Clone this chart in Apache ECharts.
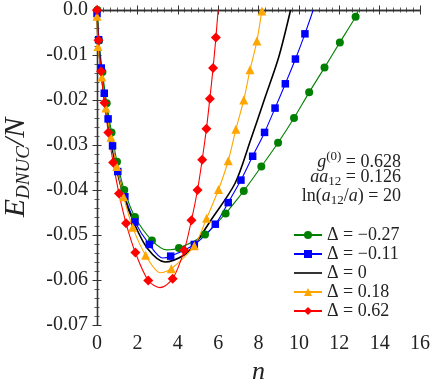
<!DOCTYPE html>
<html>
<head>
<meta charset="utf-8">
<script src="https://cdn.jsdelivr.net/npm/echarts@6/dist/echarts.min.js"></script>
<style>
  html, body { margin: 0; padding: 0; background: #fff; }
  #chart { width: 436px; height: 382px; }
</style>
</head>
<body>
<div id="chart"></div>
<script>
(function () {
  "use strict";

  // marker points [n, E/N]
  const greenMarks = [[0.02, 0], [0.1, -0.0068], [0.27, -0.0138], [0.48, -0.0207], [0.72, -0.0272], [0.99, -0.0337],
    [1.35, -0.040], [1.88, -0.046], [2.72, -0.0512], [4.06, -0.0529], [5.35, -0.0499], [6.37, -0.0452],
    [7.27, -0.0402], [8.14, -0.0348], [8.97, -0.0295], [9.76, -0.024], [10.51, -0.0183], [11.27, -0.0128],
    [12.03, -0.0072], [12.81, -0.0015]];
  const greenExtra = [[3.45, -0.0533], [12.94, 0]];

  const blueMarks = [[0, -0.0008], [0.08, -0.0066], [0.21, -0.0129], [0.36, -0.0185], [0.55, -0.0242], [0.77, -0.0302],
    [1.03, -0.0359], [1.38, -0.0415], [1.88, -0.0471], [2.59, -0.0521], [3.65, -0.0547], [4.82, -0.0521],
    [5.86, -0.0476], [6.5, -0.0428], [7.13, -0.0378], [7.71, -0.0325], [8.3, -0.0272], [8.82, -0.0218],
    [9.33, -0.0164], [9.83, -0.0109], [10.3, -0.0053]];
  const blueExtra = [[3.25, -0.0551], [10.71, 0]];

  const blackLine = [[0, 0], [0.06, -0.007], [0.21, -0.014], [0.4, -0.021], [0.64, -0.028], [0.93, -0.0345],
    [1.3, -0.041], [1.8, -0.047], [2.5, -0.053], [3.37, -0.056], [4.3, -0.0545], [4.85, -0.052], [5.6, -0.047],
    [6.84, -0.0385], [7.6, -0.029], [8.32, -0.0195], [9.0, -0.0105], [9.59, 0]];

  const orangeMarks = [[0, -0.0014], [0.05, -0.0081], [0.24, -0.0149], [0.44, -0.0218], [0.69, -0.0283], [0.98, -0.0348],
    [1.32, -0.0415], [1.77, -0.0483], [2.41, -0.0545], [3.68, -0.0575], [4.82, -0.0524], [5.43, -0.0463],
    [6.02, -0.0399], [6.5, -0.0335], [6.88, -0.0265], [7.27, -0.020], [7.58, -0.0133], [7.92, -0.0069], [8.17, -0.0002]];
  const orangeExtra = [[3.15, -0.0584], [8.2, 0]];

  const redMarks = [[0, 0], [0.07, -0.0067], [0.2, -0.0136], [0.37, -0.0206], [0.56, -0.0272], [0.8, -0.0339],
    [1.09, -0.0408], [1.44, -0.0474], [1.9, -0.0539], [2.54, -0.0601], [3.75, -0.0597], [4.32, -0.0534],
    [4.68, -0.0467], [4.98, -0.040], [5.21, -0.0333], [5.42, -0.0264], [5.59, -0.0197], [5.75, -0.0129], [5.89, -0.0061]];
  const redExtra = [[3.12, -0.0617], [6.0, 0]];

  const labels = ["Δ = −0.27", "Δ = −0.11", "Δ = 0", "Δ = 0.18", "Δ = 0.62"];

  const COLORS = { green: "#008000", blue: "#0000ff", black: "#000", orange: "#ffa500", red: "#ff0000", axis: "#333", text: "#222" };
  const FONT = "'Liberation Serif', 'DejaVu Serif', serif";

  function curve(marks, extra) {
    return marks.map((p) => ({ value: p }))
      .concat(extra.map((p) => ({ value: p, symbol: "none" })))
      .sort((a, b) => a.value[0] - b.value[0]);
  }

  function lineSeries(name, color, symbol, size, data) {
    return {
      name, type: "line", data, smooth: 0.3,
      symbol, symbolSize: size, showAllSymbol: true,
      lineStyle: { color, width: 1.1 },
      itemStyle: { color },
      emphasis: { disabled: true },
      z: 3,
    };
  }

  const tick = { show: true, inside: true, length: 4.5, lineStyle: { color: COLORS.axis, width: 1 } };
  const minor = { show: true, length: 2.5, lineStyle: { color: COLORS.axis, width: 0.8 } };
  const line = { show: true, lineStyle: { color: COLORS.axis, width: 1.3 } };

  function xAxis(pos, withLabels) {
    return {
      type: "value", position: pos, min: 0, max: 16, interval: 2,
      axisLine: line, axisTick: tick, minorTick: Object.assign({ splitNumber: 6 }, minor),
      splitLine: { show: false },
      axisLabel: { show: withLabels, fontFamily: FONT, fontSize: 20, color: COLORS.text, margin: 9 },
      name: withLabels ? "n" : "", nameLocation: "middle", nameGap: 29,
      nameTextStyle: { fontFamily: FONT, fontStyle: "italic", fontSize: 26, color: COLORS.text },
    };
  }

  function yAxis(pos, withLabels) {
    return {
      type: "value", position: pos, min: -0.07, max: 0, interval: 0.01,
      axisLine: line, axisTick: tick, minorTick: Object.assign({ splitNumber: 5 }, minor),
      splitLine: { show: false },
      axisLabel: {
        show: withLabels, fontFamily: FONT, fontSize: 20, color: COLORS.text, margin: 9,
        formatter: (v) => (v === 0 ? "0.0" : v.toFixed(2)),
      },
      name: withLabels ? "{i|E}{s|DNUC}{i|/N}" : "", nameLocation: "middle", nameGap: 64,
      nameTextStyle: {
        color: COLORS.text,
        rich: {
          i: { fontFamily: FONT, fontStyle: "italic", fontSize: 30, color: COLORS.text },
          s: { fontFamily: FONT, fontStyle: "italic", fontSize: 19, color: COLORS.text, padding: [14, 0, 0, 0] },
        },
      },
    };
  }

  const noteRich = {
    i: { fontFamily: FONT, fontStyle: "italic", fontSize: 18, fill: COLORS.text },
    r: { fontFamily: FONT, fontSize: 18, fill: COLORS.text },
    sup: { fontFamily: FONT, fontSize: 13, fill: COLORS.text, padding: [0, 0, 12, 0] },
    sub: { fontFamily: FONT, fontSize: 13, fill: COLORS.text, padding: [9, 0, 0, 0] },
  };
  const notes = [
    "{i|g}{sup|(0)}{r| = 0.628}",
    "{i|aa}{sub|12}{r| = 0.126}",
    "{r|ln(}{i|a}{sub|12}{r|/}{i|a}{r|) = 20}",
  ];

  const chart = echarts.init(document.getElementById("chart"), null, { renderer: "canvas" });
  chart.setOption({
    animation: false,
    backgroundColor: "#fff",
    grid: { left: 97, right: 16, top: 10, bottom: 57, outerBoundsMode: "none" },
    xAxis: [xAxis("bottom", true), xAxis("top", false)],
    yAxis: [yAxis("left", true), yAxis("right", false)],
    legend: {
      orient: "vertical", left: 293, top: 226, padding: 0, itemWidth: 28, itemHeight: 10, itemGap: 1,
      textStyle: { fontFamily: FONT, fontSize: 18, color: COLORS.text, lineHeight: 18 },
      data: [
        { name: labels[0] }, { name: labels[1] },
        { name: labels[2], icon: "path://M0 0H28V1.6H0Z" },
        { name: labels[3] }, { name: labels[4] },
      ],
    },
    graphic: notes.map((t, i) => ({
      type: "text", right: 35, top: 150 + i * 18.5,
      style: { text: t, rich: noteRich, textAlign: "right" },
    })),
    series: [
      lineSeries(labels[0], COLORS.green, "circle", 8, curve(greenMarks, greenExtra)),
      lineSeries(labels[1], COLORS.blue, "rect", 7.5, curve(blueMarks, blueExtra)),
      Object.assign(lineSeries(labels[2], COLORS.black, "none", 0, blackLine), { lineStyle: { color: COLORS.black, width: 1.6 } }),
      lineSeries(labels[3], COLORS.orange, "triangle", 9, curve(orangeMarks, orangeExtra)),
      lineSeries(labels[4], COLORS.red, "diamond", 10, curve(redMarks, redExtra)),
    ],
  });
})();
</script>
</body>
</html>
